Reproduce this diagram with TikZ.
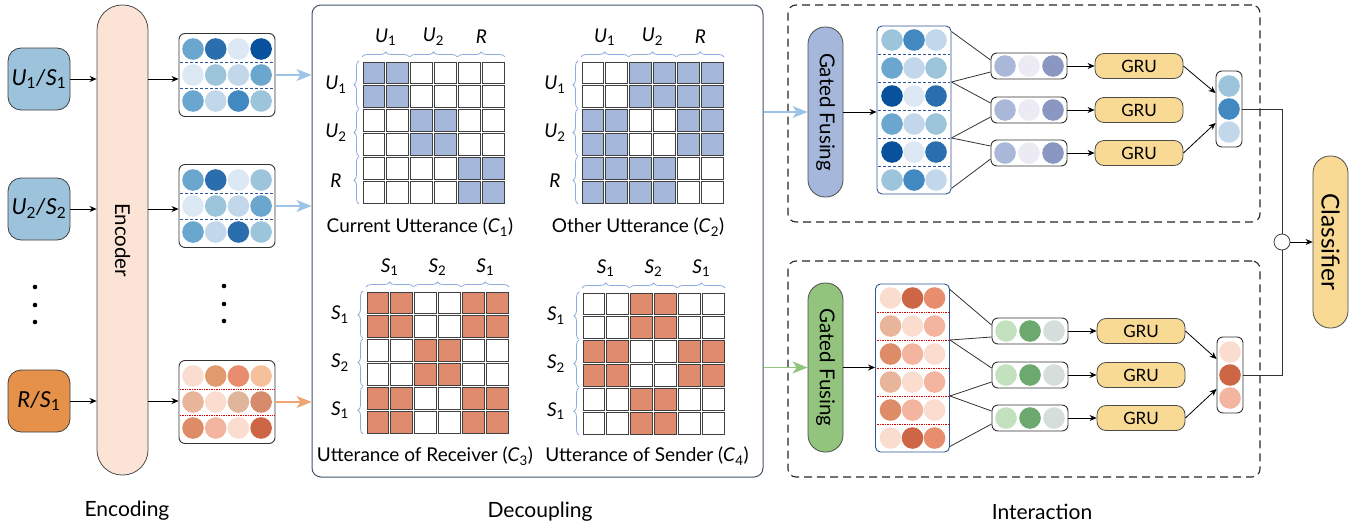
\documentclass[tikz,border=0pt]{standalone}
\usepackage{fontspec}
\setmainfont{Lato}
\usetikzlibrary{positioning,arrows.meta,decorations.pathreplacing}

\definecolor{bl1}{HTML}{DCE8F3}
\definecolor{bl2}{HTML}{C2D7EA}
\definecolor{bl3}{HTML}{9CC5DC}
\definecolor{bl4}{HTML}{6AA6CD}
\definecolor{bl5}{HTML}{4289C1}
\definecolor{bl6}{HTML}{2A6EAD}
\definecolor{bl7}{HTML}{08519C}
\definecolor{or1}{HTML}{FADDCF}
\definecolor{or2}{HTML}{F3B5A0}
\definecolor{or3}{HTML}{E8B49A}
\definecolor{or4}{HTML}{DFB59B}
\definecolor{or5}{HTML}{F5C19D}
\definecolor{or6}{HTML}{E09A6E}
\definecolor{or7}{HTML}{E88D6E}
\definecolor{or8}{HTML}{D68B6C}
\definecolor{or9}{HTML}{DE8C67}
\definecolor{or10}{HTML}{CC6645}
\definecolor{pu1}{HTML}{A9B8D8}
\definecolor{pu2}{HTML}{ECEBF4}
\definecolor{pu3}{HTML}{8A97C2}
\definecolor{gr1}{HTML}{C3E0BF}
\definecolor{gr2}{HTML}{6BA96E}
\definecolor{gr3}{HTML}{D5DEDA}
\definecolor{inblue}{HTML}{9DC3DC}
\definecolor{inorange}{HTML}{E6914A}
\definecolor{encfill}{HTML}{FBE3D6}
\definecolor{cellB}{HTML}{A5B8DC}
\definecolor{cellO}{HTML}{E08B6E}
\definecolor{gateG}{HTML}{93C47D}
\definecolor{grufill}{HTML}{F8DA94}
\definecolor{arrB}{HTML}{9DC3E6}
\definecolor{arrO}{HTML}{F0A472}
\definecolor{bracecol}{HTML}{8FAADC}
\definecolor{framecol}{HTML}{44546A}
\definecolor{sepB}{HTML}{2F5597}

\newcommand\sym[2]{\textit{#1}\textsubscript{#2}}
% x0, y0, fill, rows of 0/1
\newcommand\cellgrid[4]{%
  \foreach \row [count=\r from 0] in {#4}
    \foreach \v [count=\c from 0] in \row {
      \ifnum\v=1 \def\cf{#3}\else\def\cf{white}\fi
      \draw[cell, fill=\cf] (#1+\c*23.9, #2+\r*23.9) rectangle ++(21.5,21.5);
    }}
% x0, y0, name, three group labels
\newcommand\gridbraces[6]{%
  \foreach \l [count=\k from 0] in {#4,#5,#6} {
    \draw[grpbrace] (#1+\k*47.8-1, #2-5) -- (#1+\k*47.8+46.4, #2-5);
    \node[grplab] (#3t\k) at (#1+\k*47.8+22.7, #2-25) {\l};
    \draw[grpbrace] (#1-4, #2+\k*47.8+46.4) -- (#1-4, #2+\k*47.8-1);
    \node[grplab] (#3l\k) at (#1-27, #2+\k*47.8+22.7) {\l};
  }}
% node, first x, first y, step x, step y, colour rows
\newcommand\dotgrid[6]{%
  \begin{scope}[shift={(#1.center)}]
    \foreach \cs [count=\r from 0] in {#6}
      \foreach \cc [count=\c from 0] in \cs
        \fill[\cc] (#2+\c*#4, #3+\r*#5) circle (10.8pt);
  \end{scope}}

\begin{document}
\begin{tikzpicture}[x=1pt, y=-1pt, font=\fontsize{19}{22}\selectfont
    , arr/.style={-{Stealth[length=7pt,width=6pt]}, line width=0.8pt}
    , fat/.style={line width=1.4pt, -{Stealth[length=15pt,width=12pt,inset=4pt]}}
    , inbox/.style={draw=black!75, line width=0.8pt, rounded corners=13pt, inner sep=1pt, minimum width=62, minimum height=62, font=\fontsize{22}{26}\selectfont}
    , fbox/.style={draw=black!80, line width=0.9pt, rounded corners=6pt, fill=white, minimum width=96, minimum height=83}
    , colbox/.style={draw=sepB, line width=0.9pt, rounded corners=5pt, fill=white, minimum width=74, minimum height=168}
    , sbox/.style={draw=black!80, line width=0.9pt, rounded corners=6pt, fill=white, minimum width=76, minimum height=26}
    , vbox/.style={draw=black!80, line width=0.9pt, rounded corners=6pt, fill=white, minimum width=26, minimum height=76}
    , gru/.style={draw=black!70, line width=0.8pt, fill=grufill, rounded corners=9pt, minimum width=88, minimum height=25, font=\fontsize{17}{20}\selectfont}
    , pill/.style={draw=black!70, line width=0.8pt, rounded corners=17pt, minimum width=35}
    , cell/.style={draw=black!75, line width=0.9pt}
    , grpbrace/.style={draw=bracecol, line width=0.8pt, decorate, decoration={brace, amplitude=5pt}}
    , grplab/.style={font=\fontsize{19}{22}\selectfont}
    , sepline/.style={sepB, line width=0.7pt, densely dashed}
    , sepred/.style={red!85!black, line width=0.7pt, densely dotted}
    , dashbox/.style={draw=black!85, line width=1.1pt, dash pattern=on 8pt off 5pt, rounded corners=8pt}
    , wire/.style={draw=black!80, line width=0.8pt}
    , vtext/.style={rotate=-90, font=\fontsize{20.5}{24}\selectfont}
    ]
  \useasboundingbox (0,0) rectangle (1369,525);

  % frames
  \node[draw=framecol, line width=1pt, rounded corners=9pt, minimum width=451, minimum height=472] (dec) at (537.5,241) {};
  \node[dashbox, minimum width=472, minimum height=217] (intT) at (1024,113.5) {};
  \node[dashbox, minimum width=472, minimum height=216] (intB) at (1024,369) {};

  % encoding
  \node[inbox, fill=inblue] (in1) at (39,79) {\sym{U}{1}\textit{/}\sym{S}{1}};
  \node[inbox, fill=inblue] (in2) at (39,209) {\sym{U}{2}\textit{/}\sym{S}{2}};
  \node[inbox, fill=inorange] (in3) at (39,401) {\textit{R/}\sym{S}{1}};
  \foreach \y in {287,305,322} {
    \fill (35,\y) circle (2.3pt);
    \fill (224,\y-1) circle (2.3pt);
  }
  \node[pill, fill=encfill, minimum width=51, minimum height=470, rounded corners=25pt] (enc) at (122.5,240) {};
  \node[vtext] (encT) at (enc) {Encoder};

  \node[fbox] (f1) at (227,75) {};
  \node[fbox] (f2) at (227,206) {};
  \node[fbox] (f3) at (227,402) {};
  \foreach \n in {f1,f2} {
    \begin{scope}[shift={(\n.center)}]
      \foreach \yy in {-13,13} \draw[sepline] (-47,\yy) -- (47,\yy);
    \end{scope}
  }
  \begin{scope}[shift={(f3.center)}]
    \foreach \yy in {-13,13} \draw[sepred] (-47,\yy) -- (47,\yy);
  \end{scope}
  \dotgrid{f1}{-34}{-26}{22.7}{26}{{bl4,bl6,bl1,bl7},{bl1,bl3,bl2,bl4},{bl4,bl2,bl5,bl3}}
  \dotgrid{f2}{-34}{-26}{22.7}{26}{{bl4,bl6,bl1,bl3},{bl1,bl3,bl2,bl4},{bl4,bl2,bl6,bl3}}
  \dotgrid{f3}{-34}{-26}{22.7}{26}{{or1,or6,or7,or5},{or3,or1,or4,or8},{or9,or2,or1,or10}}

  \foreach \i in {1,2,3} {
    \draw[arr] (in\i.east) -- (in\i.east -| enc.west);
    \draw[arr] (enc.east |- in\i.east) -- (f\i.west |- in\i.east);
  }
  \draw[fat, arrB] (f1.east) -- (f1.east -| dec.west);
  \draw[fat, arrB] (f2.east) -- (f2.east -| dec.west);
  \draw[fat, arrO] (f3.east) -- (f3.east -| dec.west);

  % decoupling
  \cellgrid{363}{62}{cellB}{{1,1,0,0,0,0},{1,1,0,0,0,0},{0,0,1,1,0,0},{0,0,1,1,0,0},{0,0,0,0,1,1},{0,0,0,0,1,1}}
  \gridbraces{363}{62}{ca}{\sym{U}{1}}{\sym{U}{2}}{\textit{R}}
  \cellgrid{582}{62}{cellB}{{0,0,1,1,1,1},{0,0,1,1,1,1},{1,1,0,0,1,1},{1,1,0,0,1,1},{1,1,1,1,0,0},{1,1,1,1,0,0}}
  \gridbraces{582}{62}{cb}{\sym{U}{1}}{\sym{U}{2}}{\textit{R}}
  \cellgrid{367}{292}{cellO}{{1,1,0,0,1,1},{1,1,0,0,1,1},{0,0,1,1,0,0},{0,0,1,1,0,0},{1,1,0,0,1,1},{1,1,0,0,1,1}}
  \gridbraces{367}{292}{cc}{\sym{S}{1}}{\sym{S}{2}}{\sym{S}{1}}
  \cellgrid{583}{293}{cellO}{{0,0,1,1,0,0},{0,0,1,1,0,0},{1,1,0,0,1,1},{1,1,0,0,1,1},{0,0,1,1,0,0},{0,0,1,1,0,0}}
  \gridbraces{583}{293}{cd}{\sym{S}{1}}{\sym{S}{2}}{\sym{S}{1}}

  \node (capA) at (420,227) {Current Utterance (\sym{C}{1})};
  \node (capB) at (638,227) {Other Utterance (\sym{C}{2})};
  \node (capC) at (425,456) {Utterance of Receiver (\sym{C}{3})};
  \node (capD) at (647,456) {Utterance of Sender (\sym{C}{4})};

  % interaction
  \node[pill, fill=cellB, minimum height=170] (gfT) at (825.5,112) {};
  \node[vtext] (gfTt) at (gfT) {Gated Fusing};
  \node[pill, fill=gateG, minimum height=169] (gfB) at (825.5,367.5) {};
  \node[vtext] (gfBt) at (gfB) {Gated Fusing};
  \draw[fat, arrB] (gfT.west -| dec.east) -- (gfT.west);
  \draw[fat, gateG] (gfB.west -| dec.east) -- (gfB.west);

  \node[colbox] (colT) at (914,110) {};
  \node[colbox] (colB) at (912.5,368) {};
  \begin{scope}[shift={(colT.center)}]
    \foreach \yy in {-56,-28,0,28,56} \draw[sepline] (-36,\yy) -- (36,\yy);
  \end{scope}
  \begin{scope}[shift={(colB.center)}]
    \foreach \yy in {-56,-28,0,28,56} \draw[sepred] (-36,\yy) -- (36,\yy);
  \end{scope}
  \dotgrid{colT}{-22}{-70}{22}{28}{{bl3,bl5,bl2},{bl4,bl2,bl3},{bl7,bl1,bl6},{bl4,bl2,bl3},{bl7,bl1,bl6},{bl3,bl5,bl2}}
  \dotgrid{colB}{-22}{-70}{22}{28}{{or1,or10,or7},{or3,or1,or2},{or9,or2,or1},{or3,or1,or2},{or9,or2,or1},{or1,or10,or7}}
  \draw[arr] (gfT.east) -- (gfT.east -| colT.west);
  \draw[arr] (gfB.east) -- (gfB.east -| colB.west);

  \foreach \i/\y in {1/66,2/110,3/153} {
    \node[sbox] (sT\i) at (1029,\y) {};
    \node[gru] (gT\i) at (1139,\y) {GRU};
    \draw[arr] (sT\i) -- (gT\i);
    \dotgrid{sT\i}{-24}{0}{24}{0}{{pu1,pu2,pu3}}
  }
  \foreach \i/\y in {1/331,2/375,3/418} {
    \node[sbox] (sB\i) at (1030,\y) {};
    \node[gru] (gB\i) at (1141,\y) {GRU};
    \draw[arr] (sB\i) -- (gB\i);
    \dotgrid{sB\i}{-24}{0}{24}{0}{{gr1,gr2,gr3}}
  }

  \node[vbox] (vT) at (1229,109) {};
  \dotgrid{vT}{0}{-23}{0}{23}{{bl3},{bl5},{bl2}}
  \node[vbox] (vB) at (1230,375) {};
  \dotgrid{vB}{0}{-23}{0}{23}{{or1},{or10},{or2}}

  \foreach \s in {T,B} {
    \draw[wire] ([yshift=-6pt]col\s.north east) -- ([yshift=6pt]s\s1.west);
    \draw[wire] ([yshift=28pt]col\s.east) -- ([yshift=-6pt]s\s1.west);
    \draw[wire] ([yshift=28pt]col\s.east) -- ([yshift=7pt]s\s2.west);
    \draw[wire] ([yshift=-28pt]col\s.east) -- ([yshift=-7pt]s\s2.west);
    \draw[wire] ([yshift=-28pt]col\s.east) -- ([yshift=7pt]s\s3.west);
    \draw[wire] ([yshift=6pt]col\s.south east) -- ([yshift=-6pt]s\s3.west);
    \draw[arr] (g\s1.east) -- ([yshift=16pt]v\s.west);
    \draw[arr] (g\s3.east) -- ([yshift=-14pt]v\s.west);
  }

  % classifier
  \node[draw=black!75, fill=white, circle, minimum size=16, inner sep=0pt, line width=0.8pt] (join) at (1282,242) {};
  \node[pill, fill=grufill, minimum height=172] (cls) at (1330.5,242) {};
  \node[vtext, font=\fontsize{24.5}{28}\selectfont] (clsT) at (cls) {Classifier};
  \draw[wire] (vT.east) -| (join.north);
  \draw[wire] (vB.east) -| (join.south);
  \draw[arr] (join) -- (cls);

  % stage names
  \node[font=\fontsize{21}{24}\selectfont] (lEnc) at (127,511) {Encoding};
  \node[font=\fontsize{21}{24}\selectfont] (lDec) at (540,512) {Decoupling};
  \node[font=\fontsize{21}{24}\selectfont] (lInt) at (1042,512) {Interaction};
\end{tikzpicture}
\end{document}
